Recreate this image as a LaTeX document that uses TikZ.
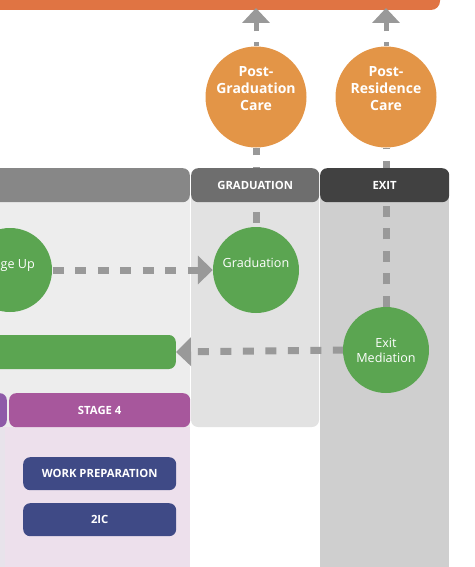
\documentclass[tikz,border=0pt]{standalone}
\usepackage{fontspec}
\setmainfont{Open Sans}
\usetikzlibrary{arrows.meta}
\definecolor{topor}{HTML}{E07443}
\definecolor{circor}{HTML}{E39547}
\definecolor{grn}{HTML}{5BA551}
\definecolor{hdgray}{HTML}{878787}
\definecolor{hdgrad}{HTML}{6E6E6E}
\definecolor{hdexit}{HTML}{414141}
\definecolor{bgleft}{HTML}{EDEDED}
\definecolor{bggrad}{HTML}{E2E2E2}
\definecolor{bgexit}{HTML}{CFCFCF}
\definecolor{arrgray}{HTML}{999999}
\definecolor{stagefour}{HTML}{A7579C}
\definecolor{stagethree}{HTML}{8E5BA8}
\definecolor{lav}{HTML}{EDE0EC}
\definecolor{lavstrip}{HTML}{E8E3EB}
\definecolor{navy}{HTML}{3F4A86}
\tikzset{
  bigcirc/.style={circle, fill=circor, minimum size=101pt, inner sep=0pt},
  grncirc/.style={circle, fill=grn, minimum size=86pt, inner sep=0pt},
  boldtxt/.style={text=white, font=\bfseries\fontsize{14}{17}\selectfont, align=center, inner sep=0pt},
  regtxt/.style={text=white, font=\fontsize{12.6}{15}\selectfont, align=center, inner sep=0pt},
  hdtxt/.style={text=white, font=\bfseries\fontsize{11.3}{13}\selectfont, inner sep=0pt},
  dashline/.style={draw=arrgray, line width=7pt, dash pattern=on 11pt off 11.5pt},
  uparrow/.style={draw=arrgray, line width=5pt, dash pattern=on 11pt off 11pt, dash phase=7pt,
    -{Triangle[width=27pt,length=15pt]}},
  harrow/.style={dashline, -{Triangle[width=28pt,length=15pt]}},
}
\begin{document}
\begin{tikzpicture}[x=1pt,y=-1pt]
\useasboundingbox (0,0) rectangle (474,567);
\begin{scope}
\clip (0,0) rectangle (474,567);
% column backgrounds
\fill[bgleft] (0,195) rectangle (190,427);
\fill[lav] (0,427) rectangle (190,567);
\fill[lavstrip] (0,427) rectangle (5,567);
\fill[bggrad, rounded corners=7pt] (191,190) rectangle (319,427);
\fill[bgexit] (320,195) rectangle (449,567);
% top bar
\fill[topor, rounded corners=9pt] (-20,-20) rectangle (440,10);
\coordinate (bartopa) at (256,10);
\coordinate (bartopb) at (386,10);
% circles (nodes)
\node[bigcirc] (pgc) at (256,97) {};
\node[bigcirc] (prc) at (386,97) {};
\node[grncirc, minimum size=84pt] (stup) at (10,270) {};
\node[grncirc] (grad) at (256,270) {};
\node[grncirc] (exitm) at (386,350) {};
% green bar
\node[fill=grn, rounded corners=7pt, minimum width=200pt, minimum height=34pt, inner sep=0pt, anchor=east] (gbar) at (176,352) {};
% dashed connectors behind headers
\draw[dashline, dash phase=18.5pt] (grad.north) -- (pgc.south);
\draw[dashline, dash phase=0pt] (exitm.north) -- (prc.south);
\draw[uparrow, shorten >=-2pt] (pgc.north) -- (bartopa);
\draw[uparrow, shorten >=-2pt] (prc.north) -- (bartopb);
\draw[harrow, dash phase=22pt] (stup.east) -- (grad.west);
\draw[harrow, dash phase=1pt] (exitm.west) -- (gbar.east);
% headers
\node[fill=hdgray, rounded corners=7pt, minimum width=210pt, minimum height=34pt, inner sep=0pt, anchor=north east] (hdleft) at (190,168) {};
\node[fill=hdgrad, rounded corners=7pt, minimum width=128pt, minimum height=34pt, inner sep=0pt, anchor=north west] (hdgradn) at (191,168) {};
\node[fill=hdexit, rounded corners=7pt, minimum width=129pt, minimum height=34pt, inner sep=0pt, anchor=north west] (hdexitn) at (320,168) {};
\node[hdtxt] (hdgradt) at (hdgradn.center) {GRADUATION};
\node[hdtxt] (hdexitt) at (hdexitn.center) {EXIT};
% circle texts
\node[boldtxt] (pgct) at (256,89) {Post-\\Graduation\\Care};
\node[boldtxt] (prct) at (386,89) {Post-\\Residence\\Care};
\node[regtxt] (gradt) at (256,263) {Graduation};
\node[regtxt] (exitmt) at (386,350) {Exit\\Mediation};
\node[regtxt, anchor=east] (stupt) at (35,266) {ge Up};
% stage bars
\node[fill=stagethree, rounded corners=7pt, minimum width=30pt, minimum height=34pt, inner sep=0pt, anchor=north east] (st3) at (7,393) {};
\node[fill=stagefour, rounded corners=7pt, minimum width=181pt, minimum height=34pt, inner sep=0pt, anchor=north west] (st4) at (9,393) {};
\node[hdtxt] (st4t) at (st4.center) {STAGE 4};
% navy buttons
\node[fill=navy, rounded corners=7pt, minimum width=153pt, minimum height=33pt, inner sep=0pt, anchor=north west, hdtxt] (wp) at (23,457) {WORK PREPARATION};
\node[fill=navy, rounded corners=7pt, minimum width=153pt, minimum height=33pt, inner sep=0pt, anchor=north west, hdtxt] (twoic) at (23,503) {2IC};
\end{scope}
\end{tikzpicture}
\end{document}
